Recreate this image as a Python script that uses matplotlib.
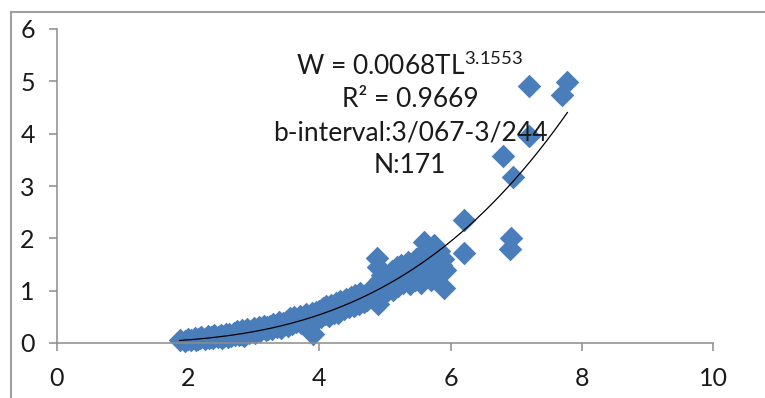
import numpy as np
import matplotlib
matplotlib.use("Agg")
import matplotlib.pyplot as plt
from matplotlib.lines import Line2D

plt.rcParams["font.family"] = ["Lato", "DejaVu Sans"]
plt.rcParams["mathtext.fontset"] = "custom"
plt.rcParams["mathtext.rm"] = "Lato"
plt.rcParams["mathtext.it"] = "Lato"

# total length (cm) vs weight (g)
tl = [1.87, 1.95, 2.0, 2.05, 2.1, 2.12, 2.15, 2.18, 2.2, 2.25, 2.3, 2.32, 2.35, 2.38, 2.4,
      2.45, 2.48, 2.5, 2.52, 2.55, 2.58, 2.6,
      2.62, 2.65, 2.7, 2.72, 2.75, 2.78, 2.8, 2.82, 2.85, 2.88, 2.9, 2.92, 2.95, 3.0,
      3.02, 3.05, 3.08, 3.1, 3.12, 3.15, 3.18, 3.2, 3.22,
      3.25, 3.28, 3.3, 3.35, 3.38, 3.4, 3.42, 3.45, 3.48, 3.5, 3.52, 3.55, 3.58, 3.6,
      3.62, 3.65, 3.68, 3.7, 3.72, 3.75, 3.78, 3.8, 3.82, 3.85, 3.88, 3.9, 3.92, 3.95, 3.98,
      4.0, 4.02, 4.05, 4.08, 4.1, 4.12, 4.15, 4.18, 4.2, 4.22, 4.25, 4.28, 4.28, 4.3,
      4.32, 4.35, 4.38, 4.4, 4.42, 4.45, 4.48, 4.5, 4.52, 4.55, 4.58, 4.6, 4.62, 4.65, 4.68,
      4.7, 4.72, 4.75, 4.78, 4.8, 4.82, 4.85, 4.87, 4.88, 4.9, 4.9, 4.92, 4.93, 4.95,
      4.98, 5.0, 5.02, 5.05, 5.08, 5.1, 5.12, 5.15,
      5.18, 5.2, 5.22, 5.25, 5.28, 5.3, 5.32, 5.35, 5.35, 5.38, 5.4, 5.42, 5.45, 5.48,
      5.5, 5.52, 5.55, 5.58, 5.6, 5.6, 5.62, 5.65, 5.65, 5.68,
      5.7, 5.72, 5.75, 5.75, 5.78, 5.8, 5.8, 5.82, 5.85, 5.88, 5.9, 5.92,
      6.2, 6.2, 6.8, 6.95, 6.92, 6.9, 7.2, 7.2, 7.7, 7.78]
w = [0.05, 0.04, 0.07, 0.06, 0.1, 0.05, 0.07, 0.09, 0.12, 0.08, 0.14, 0.1, 0.12, 0.09, 0.15,
     0.11, 0.13, 0.16, 0.1, 0.14, 0.18, 0.12,
     0.17, 0.13, 0.2, 0.15, 0.22, 0.16, 0.18, 0.24, 0.14, 0.21, 0.26, 0.19, 0.23, 0.29,
     0.2, 0.25, 0.31, 0.22, 0.28, 0.33, 0.24, 0.3, 0.27,
     0.33, 0.26, 0.36, 0.3, 0.4, 0.34, 0.28, 0.38, 0.36, 0.42, 0.33, 0.47, 0.37, 0.44,
     0.5, 0.4, 0.46, 0.52, 0.38, 0.48, 0.43, 0.55, 0.5, 0.45, 0.58, 0.18, 0.52, 0.6, 0.48,
     0.62, 0.5, 0.66, 0.56, 0.7, 0.6, 0.52, 0.72, 0.64, 0.58, 0.76, 0.68, 0.58, 0.62,
     0.8, 0.7, 0.65, 0.84, 0.74, 0.68, 0.88, 0.78, 0.7, 0.92, 0.8, 0.74, 0.95, 0.85, 0.78,
     0.9, 0.82, 0.98, 0.88, 1.02, 0.94, 1.1, 0.8, 1.63, 0.74, 1.45, 1.2, 0.92, 1.3,
     1.05, 1.15, 0.98, 1.25, 1.1, 1.38, 1.02, 1.2,
     1.45, 1.08, 1.3, 1.5, 1.15, 1.4, 1.25, 1.55, 1.3, 1.12, 1.35, 1.48, 1.2, 1.6,
     1.3, 1.42, 1.15, 1.72, 1.93, 1.25, 1.5, 1.35, 1.8, 1.62,
     1.2, 1.45, 1.88, 1.3, 1.65, 1.55, 1.38, 1.75, 1.5, 1.6, 1.05, 1.4,
     2.35, 1.72, 3.58, 3.18, 2.0, 1.8, 3.95, 4.92, 4.73, 4.98]

# power trend line shown on the chart
coef_a = 0.0068
coef_b = 3.1553
fit_x = np.linspace(min(tl), max(tl), 200)
fit_y = coef_a * fit_x ** coef_b

fig = plt.figure(figsize=(7.65, 3.98), dpi=100)
ax = fig.add_axes([57 / 765, 55 / 398, 656 / 765, 314 / 398])

ax.scatter(tl, w, marker="D", s=12 ** 2, color="#4a7ebb", linewidths=0,
           zorder=2, clip_on=False)
ax.plot(fit_x, fit_y, color="black", lw=0.9, zorder=3)

ax.set_xlim(0, 10)
ax.set_ylim(0, 6)
ax.set_xticks([0, 2, 4, 6, 8, 10])
ax.set_yticks([0, 1, 2, 3, 4, 5, 6])

for side in ["top", "right"]:
    ax.spines[side].set_visible(False)
for side in ["left", "bottom"]:
    ax.spines[side].set_color("#8c8c8c")
    ax.spines[side].set_linewidth(1.1)
ax.tick_params(axis="both", direction="out", length=6, width=1.1, color="#8c8c8c",
               labelsize=18, labelcolor="#1a1a1a")
ax.tick_params(axis="y", pad=10)
ax.tick_params(axis="x", pad=11)

# equation box
cx = 410 / 765
lines = ["W = 0.0068TL$^{3.1553}$", "R² = 0.9669", "b-interval:3/067-3/244", "N:171"]
baselines = [75, 107, 141, 173]
for txt, b in zip(lines, baselines):
    fig.text(cx, 1 - b / 398, txt, ha="center", va="baseline", fontsize=19,
             color="#1a1a1a")

# outer chart frame (only top and left are in view)
fig.add_artist(Line2D([10.5 / 765, 10.5 / 765], [0, 1 - 11.5 / 398],
                      color="#a0a0a0", lw=1.5, transform=fig.transFigure))
fig.add_artist(Line2D([10.5 / 765, 1], [1 - 11.5 / 398, 1 - 11.5 / 398],
                      color="#a0a0a0", lw=1.5, transform=fig.transFigure))

fig.savefig("out.png", dpi=100)
